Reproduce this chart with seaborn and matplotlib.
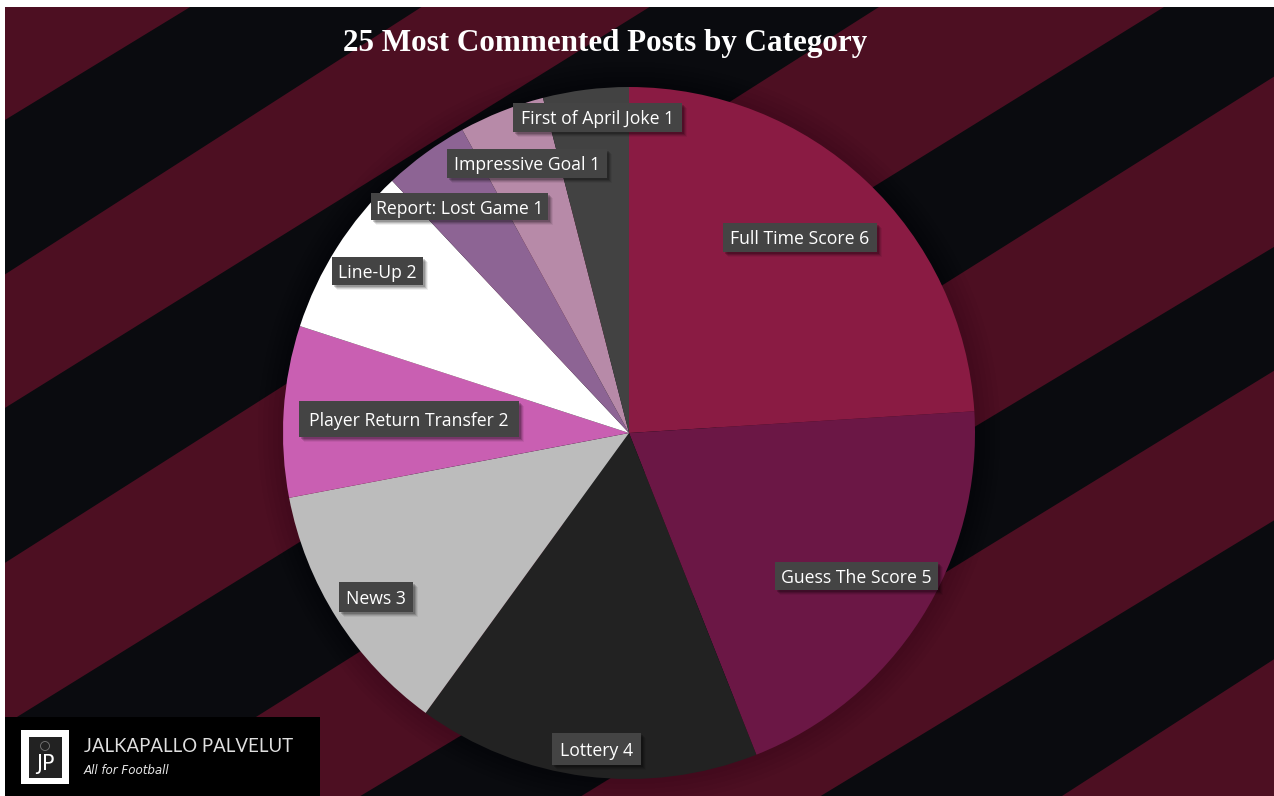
import matplotlib
matplotlib.use("Agg")
import matplotlib.pyplot as plt
from matplotlib.patches import Circle, Polygon, Rectangle
import seaborn as sns

# Post counts per category, clockwise from twelve o'clock
categories = ["Full Time Score", "Guess The Score", "Lottery", "News",
              "Player Return Transfer", "Line-Up", "Report: Lost Game",
              "Impressive Goal", "First of April Joke"]
post_counts = [6, 5, 4, 3, 2, 2, 1, 1, 1]
slice_colors = ["#8a1b43", "#6b1745", "#222222", "#bcbcbc", "#c95fb2",
                "#ffffff", "#8d6494", "#b78aa8", "#424242"]
chart_title = "25 Most Commented Posts by Category"

W, H = 1274, 796
MAROON, INK = "#4d0f22", "#0a0b0f"
LABEL_FILL = "#444444"
CX, CY, RADIUS = 629, 433, 346

sns.set_theme(style="white")
plt.rcParams["font.family"] = ["Open Sans", "DejaVu Sans"]
palette = sns.color_palette(slice_colors)

fig = plt.figure(figsize=(W / 100, H / 100), dpi=100, facecolor="white")
ax = fig.add_axes([0, 0, 1, 1])


def flip(y):
    """Convert a top-down pixel row to the axes' bottom-up coordinate."""
    return H - y


# Diagonal banded backdrop, inset by the white sliver at the left and top
LEFT, TOP = 5, 7
ax.add_patch(Rectangle((LEFT, 0), W - LEFT, flip(TOP), fc=INK, ec="none", zorder=0))
# Each band edge is a line y = intercept - slope * x in pixel rows
maroon_bands = [((-400, 0.61), (123, 0.61)),
                ((277.6, 0.642), (411, 0.622)),
                ((566, 0.636), (727.5, 0.619)),
                ((878, 0.629), (1012.6, 0.601)),
                ((1153, 0.614), (1295, 0.608)),
                ((1481, 0.645), (2400, 0.645))]
frame = Rectangle((LEFT, 0), W - LEFT, flip(TOP), transform=ax.transData)
for (c0, s0), (c1, s1) in maroon_bands:
    corners = [(LEFT, flip(c0 - s0 * LEFT)), (W, flip(c0 - s0 * W)),
               (W, flip(c1 - s1 * W)), (LEFT, flip(c1 - s1 * LEFT))]
    band = Polygon(corners, fc=MAROON, ec="none", zorder=1)
    ax.add_patch(band)
    band.set_clip_path(frame)

# Soft shadow falling around the pie
for grow in (5, 10, 15, 20, 25):
    ax.add_patch(Circle((CX, flip(CY)), RADIUS + grow, fc="black", ec="none",
                        alpha=0.025, zorder=2))

wedges, _ = ax.pie(post_counts, colors=palette, startangle=90, counterclock=False,
                   center=(CX, flip(CY)), radius=RADIUS, frame=True,
                   wedgeprops={"linewidth": 0, "zorder": 3})

# Label plates: left, right, top, bottom in pixels
plates = [(723, 877, 223, 252), (775, 938, 562, 590), (552, 641, 733, 765),
          (339, 413, 582, 612), (299, 519, 401, 437), (332, 423, 257, 285),
          (371, 548, 193, 220), (447, 607, 149, 178), (513, 682, 103, 132)]
for name, count, (x0, x1, y0, y1) in zip(categories, post_counts, plates):
    for step, alpha in ((5, 0.06), (4, 0.10), (3, 0.14), (2, 0.18)):
        ax.add_patch(Rectangle((x0 + step, flip(y1 + step)), x1 - x0, y1 - y0,
                               fc="black", ec="none", alpha=alpha, zorder=4))
    ax.add_patch(Rectangle((x0, flip(y1)), x1 - x0, y1 - y0, fc=LABEL_FILL, ec="none", zorder=5))
    ax.text((x0 + x1) / 2, flip((y0 + y1) / 2 + 2), f"{name} {count}", color="white",
            fontsize=12.7, fontweight="medium", ha="center", va="center", zorder=6)

ax.text(605, flip(43), chart_title, color="white", fontsize=22.4,
        family=["Liberation Serif"], fontweight="bold", ha="center", va="center", zorder=6)

# Brand block in the lower left corner
ax.add_patch(Rectangle((LEFT, 0), 315, flip(717), fc="black", ec="none", zorder=7))
ax.add_patch(Rectangle((21, flip(784)), 48, 54, fc="white", ec="none", zorder=8))
ax.add_patch(Rectangle((29, flip(778)), 33, 41, fc="#222222", ec="none", zorder=9))
ax.add_patch(Circle((45, flip(746)), 4.5, fc="none", ec="#777777", lw=0.6, zorder=10))
ax.text(45, flip(764), "JP", color="white", fontsize=15, family=["DejaVu Sans"],
        ha="center", va="center", zorder=10)
ax.text(84, flip(747), "JALKAPALLO PALVELUT", color="#e0e0e0", fontsize=13.4,
        family=["Lato", "DejaVu Sans"], ha="left", va="center", zorder=10)
ax.text(84, flip(770), "All for Football", color="#e6e6e6", fontsize=8.6,
        family=["DejaVu Sans"], style="italic", ha="left", va="center", zorder=10)

ax.set_xlim(0, W)
ax.set_ylim(0, H)
ax.set_aspect("auto")
ax.axis("off")
fig.savefig("out.png", dpi=100, facecolor="white")
